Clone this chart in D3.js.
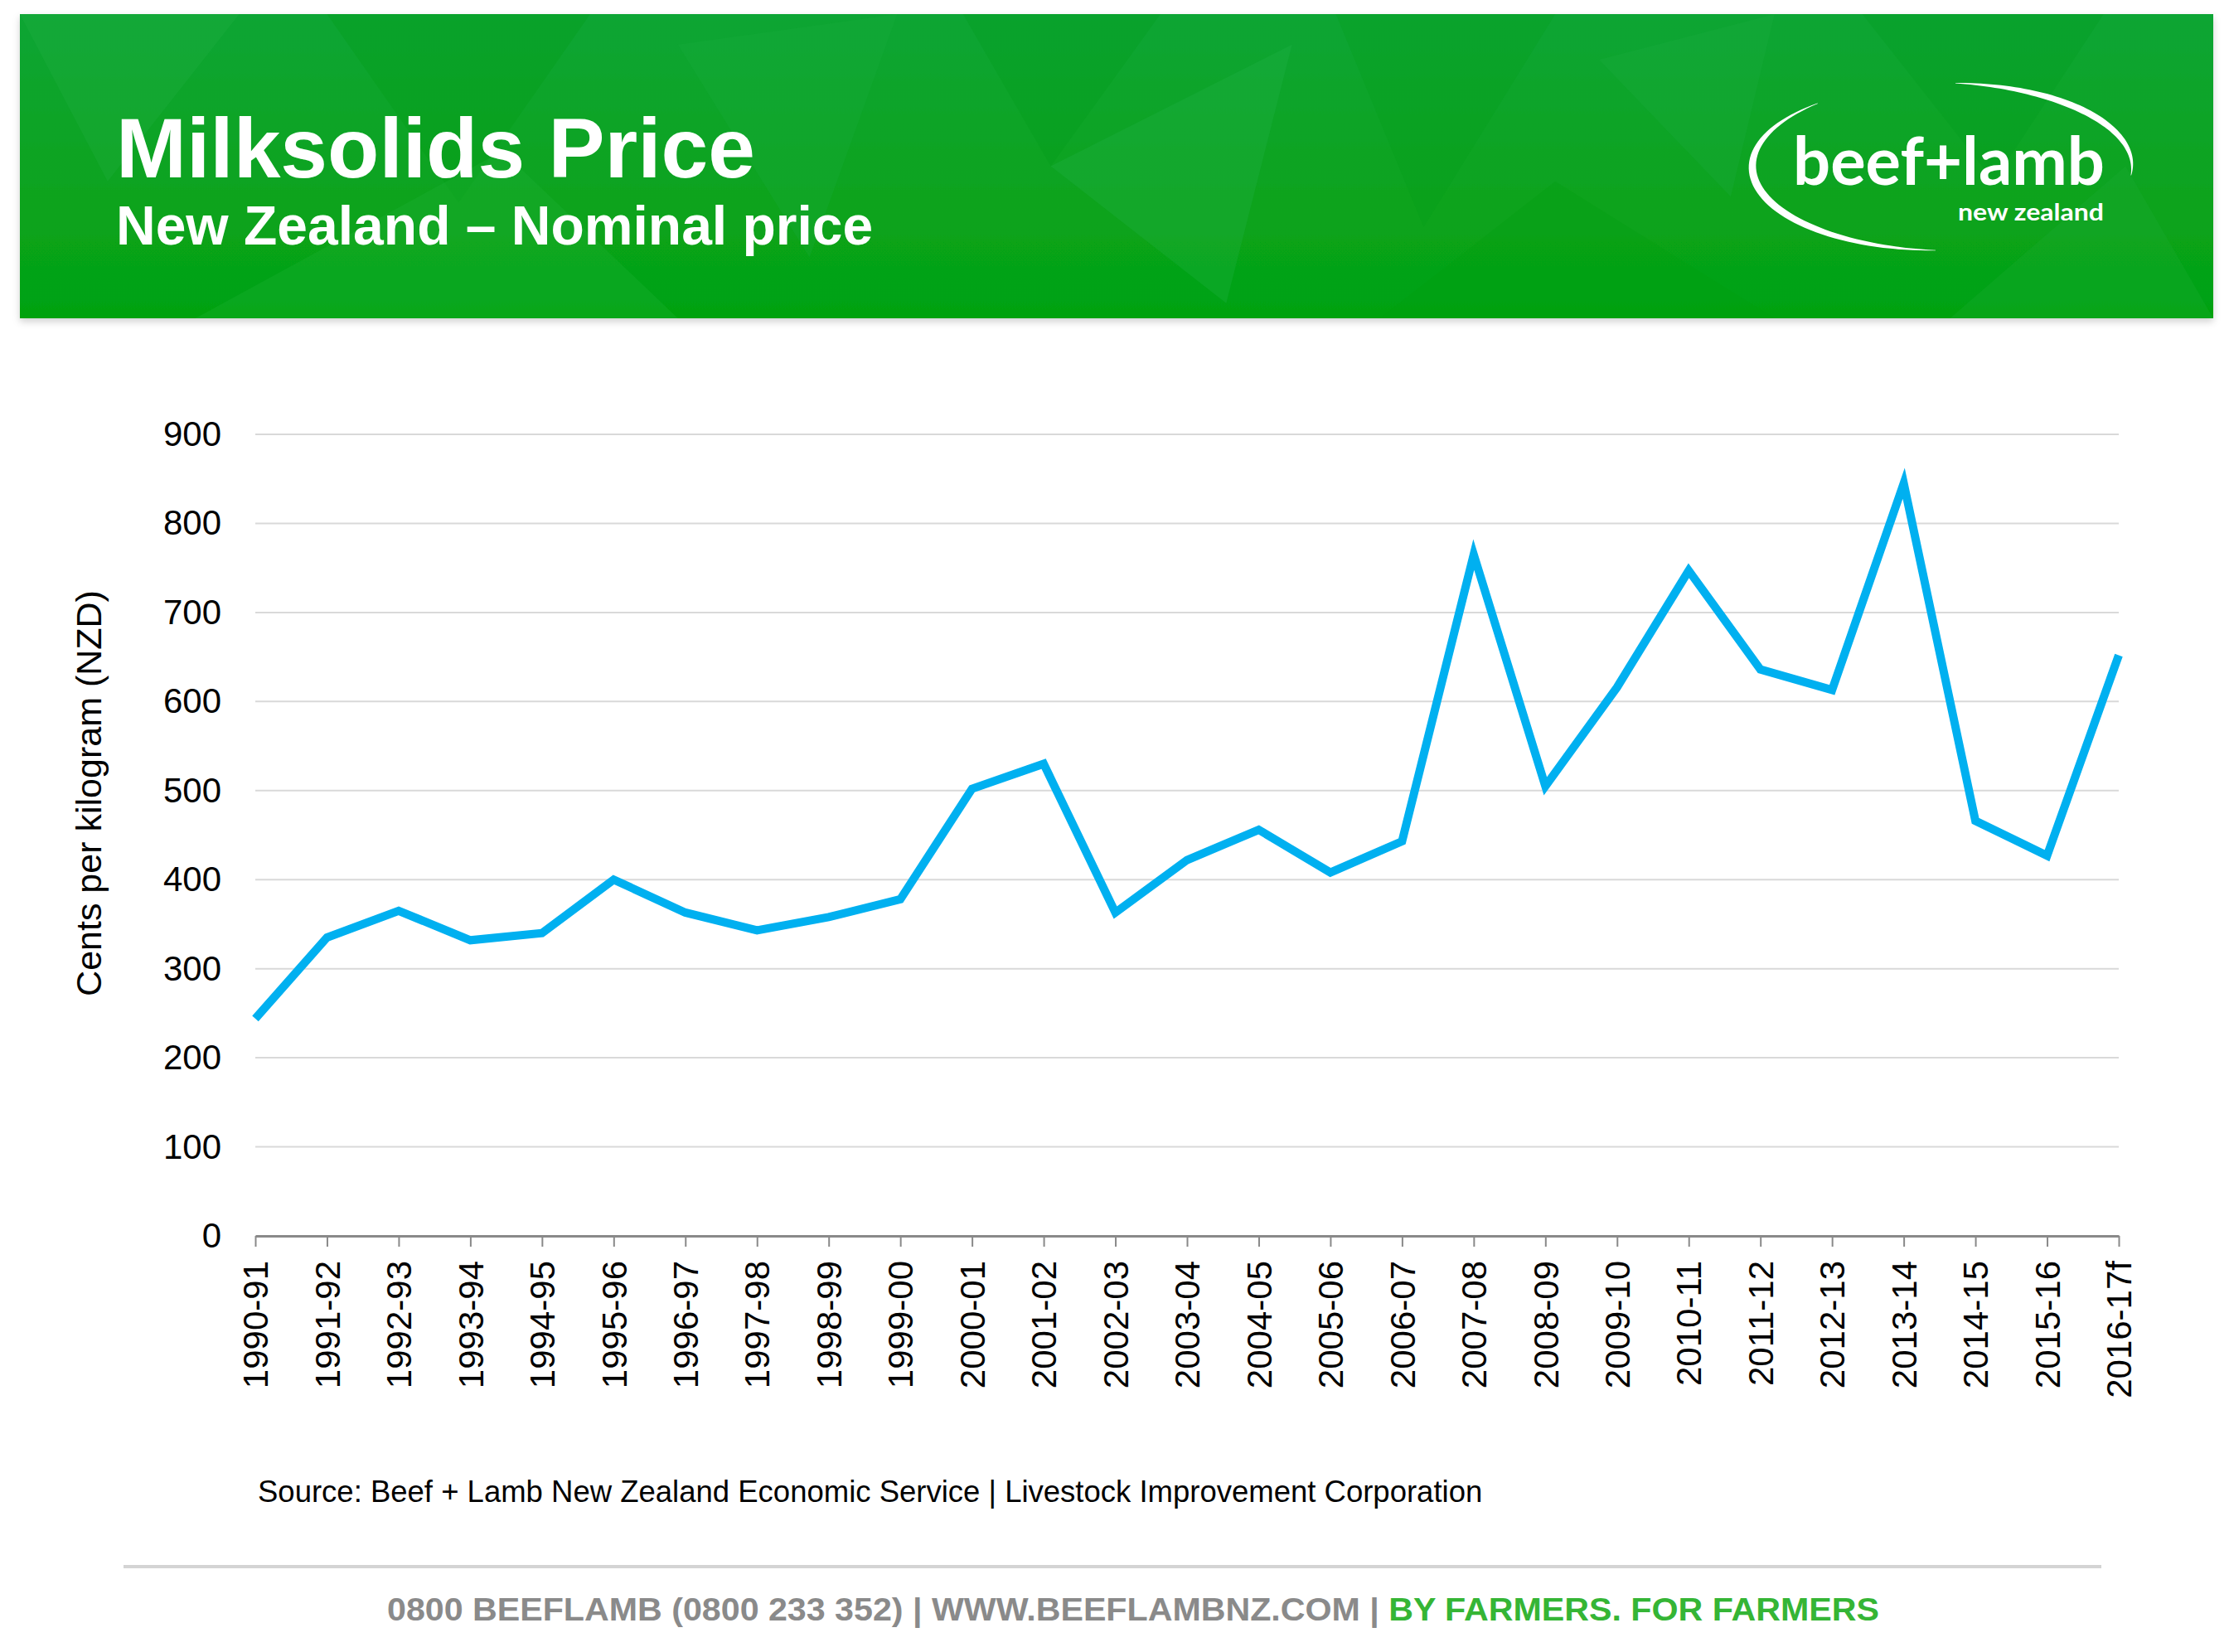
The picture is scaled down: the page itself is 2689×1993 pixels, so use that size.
<!DOCTYPE html>
<html>
<head>
<meta charset="utf-8">
<script src="https://cdn.jsdelivr.net/npm/d3@7"></script>
<style>
  html, body { margin: 0; padding: 0; background: #ffffff; }
  svg { display: block; }
</style>
</head>
<body>
<svg id="chart" width="2689" height="1993"></svg>
<script>
// milksolids price, cents per kg, nominal NZD
var seasons = ["1990-91", "1991-92", "1992-93", "1993-94", "1994-95", "1995-96", "1996-97",
	"1997-98", "1998-99", "1999-00", "2000-01", "2001-02", "2002-03", "2003-04", "2004-05",
	"2005-06", "2006-07", "2007-08", "2008-09", "2009-10", "2010-11", "2011-12", "2012-13",
	"2013-14", "2014-15", "2015-16", "2016-17f"];
var price = [244, 335, 365, 332, 340, 400, 363, 343, 358, 378, 502, 530, 363, 422, 456,
	408, 443, 765, 505, 616, 747, 636, 613, 845, 466, 427, 652];
var yTicks = [0, 100, 200, 300, 400, 500, 600, 700, 800, 900];

var titleText = "Milksolids Price";
var subtitleText = "New Zealand \u2013 Nominal price";
var yTitle = "Cents per kilogram (NZD)";
var sourceText = "Source: Beef + Lamb New Zealand Economic Service | Livestock Improvement Corporation";
var footerParts = [
	{ text: "0800 BEEFLAMB (0800 233 352) | WWW.BEEFLAMBNZ.COM | ", fill: "#8a8a8a" },
	{ text: "BY FARMERS. FOR FARMERS", fill: "#35b535" }
];

var svg = d3.select("#chart");
var font = "'Liberation Sans', Arial, sans-serif";

// ---- banner ----
var defs = svg.append("defs");
var grad = defs.append("linearGradient")
	.attr("id", "bannerGrad")
	.attr("x1", 0).attr("y1", 0).attr("x2", 0).attr("y2", 1);
grad.append("stop").attr("offset", "0%").attr("stop-color", "#10a534");
grad.append("stop").attr("offset", "100%").attr("stop-color", "#04a210");

defs.append("filter")
	.attr("id", "bannerShadow")
	.attr("x", "-2%").attr("y", "-5%").attr("width", "104%").attr("height", "115%")
	.append("feDropShadow")
	.attr("dx", 0).attr("dy", 4).attr("stdDeviation", 4)
	.attr("flood-color", "#000").attr("flood-opacity", 0.18);

var banner = { x: 24, y: 17, w: 2646, h: 367 };

svg.append("rect")
	.attr("x", banner.x).attr("y", banner.y)
	.attr("width", banner.w).attr("height", banner.h)
	.attr("fill", "url(#bannerGrad)")
	.attr("filter", "url(#bannerShadow)");

// faceted background, fractions of the banner box
var facets = [
	[[0.00, 0.00], [0.10, 0.00], [0.04, 0.55]],
	[[0.14, 0.00], [0.26, 0.00], [0.20, 0.62]],
	[[0.30, 0.10], [0.40, 0.00], [0.36, 0.80]],
	[[0.43, 0.00], [0.52, 0.00], [0.47, 0.50]],
	[[0.47, 0.50], [0.58, 0.10], [0.55, 0.95]],
	[[0.60, 0.00], [0.70, 0.00], [0.64, 0.70]],
	[[0.72, 0.15], [0.80, 0.00], [0.78, 0.60]],
	[[0.84, 0.00], [0.95, 0.00], [0.90, 0.55]],
	[[0.08, 1.00], [0.22, 0.45], [0.30, 1.00]],
	[[0.62, 1.00], [0.70, 0.55], [0.80, 1.00]],
	[[0.88, 1.00], [0.96, 0.50], [1.00, 1.00]]
];
var facetShade = ["#23b045", "#009c12", "#1aad3c", "#009a18", "#25b24a", "#049f1a",
	"#1cae40", "#009b1c", "#22b23a", "#009e10", "#1bac35"];

svg.append("g")
	.selectAll("polygon")
	.data(facets)
	.join("polygon")
	.attr("points", function (f) {
		return f.map(function (p) {
			return [banner.x + p[0] * banner.w, banner.y + p[1] * banner.h].join(",");
		}).join(" ");
	})
	.attr("fill", function (f, i) { return facetShade[i]; })
	.attr("opacity", 0.28);

svg.append("text")
	.attr("x", 140).attr("y", 214)
	.attr("font-family", font).attr("font-weight", "bold")
	.attr("font-size", 102).attr("fill", "#ffffff")
	.text(titleText);

svg.append("text")
	.attr("x", 140).attr("y", 295)
	.attr("font-family", font).attr("font-weight", "bold")
	.attr("font-size", 66).attr("fill", "#ffffff")
	.text(subtitleText);

// ---- logo ----
var logo = { cx: 2343, cy: 201, rx: 229, ry: 101 };

function swoosh(a0, a1, maxW) {
	var n = 60;
	var outer = [], inner = [];
	for (var i = 0; i <= n; i++) {
		var t = i / n;
		var a = (a0 + (a1 - a0) * t) * Math.PI / 180;
		var w = maxW * Math.sin(Math.PI * t) + 0.6;
		outer.push([logo.cx + (logo.rx + w / 2) * Math.cos(a), logo.cy + (logo.ry + w / 2) * Math.sin(a)]);
		inner.push([logo.cx + (logo.rx - w / 2) * Math.cos(a), logo.cy + (logo.ry - w / 2) * Math.sin(a)]);
	}
	return d3.line()(outer.concat(inner.reverse())) + "Z";
}

svg.append("path").attr("d", swoosh(229, 92, 9)).attr("fill", "#ffffff");
svg.append("path").attr("d", swoosh(274, 366, 8)).attr("fill", "#ffffff");

svg.append("text")
	.attr("x", 2163).attr("y", 223)
	.attr("font-family", "Lato, 'Open Sans', sans-serif").attr("font-weight", "bold")
	.attr("font-size", 80).attr("fill", "#ffffff")
	.attr("textLength", 376).attr("lengthAdjust", "spacingAndGlyphs")
	.text("beef+lamb");

svg.append("text")
	.attr("x", 2362).attr("y", 266)
	.attr("font-family", "Lato, 'Open Sans', sans-serif").attr("font-weight", "bold")
	.attr("font-size", 28).attr("fill", "#ffffff")
	.attr("textLength", 176).attr("lengthAdjust", "spacingAndGlyphs")
	.text("new zealand");

// ---- chart ----
var plot = { left: 308, right: 2556, top: 524, bottom: 1491 };

var x = d3.scalePoint()
	.domain(seasons)
	.range([plot.left, plot.right]);

var y = d3.scaleLinear()
	.domain([0, 900])
	.range([plot.bottom, plot.top]);

// gridlines
svg.append("g")
	.selectAll("line")
	.data(yTicks.filter(function (d) { return d > 0; }))
	.join("line")
	.attr("x1", plot.left).attr("x2", plot.right)
	.attr("y1", function (d) { return y(d); })
	.attr("y2", function (d) { return y(d); })
	.attr("stroke", "#d9d9d9")
	.attr("stroke-width", 2);

// y axis labels
var yAxis = svg.append("g")
	.attr("transform", "translate(" + plot.left + ",0)")
	.call(d3.axisLeft(y).tickValues(yTicks).tickSize(0).tickPadding(41));
yAxis.select(".domain").remove();
yAxis.selectAll("text")
	.attr("font-family", font)
	.attr("font-size", 42)
	.attr("fill", "#000000");

// x axis
var xAxis = svg.append("g")
	.attr("transform", "translate(0," + plot.bottom + ")")
	.call(d3.axisBottom(x).tickSize(13).tickSizeOuter(0));
xAxis.select(".domain")
	.attr("stroke", "#898989")
	.attr("stroke-width", 3);
xAxis.selectAll(".tick line")
	.attr("stroke", "#898989")
	.attr("stroke-width", 2);
xAxis.selectAll("text")
	.attr("font-family", font)
	.attr("font-size", 42)
	.attr("fill", "#000000")
	.attr("text-anchor", "end")
	.attr("transform", "rotate(-90)")
	.attr("x", -30)
	.attr("y", 0)
	.attr("dy", "0.35em");

// y title
svg.append("text")
	.attr("transform", "translate(122,957) rotate(-90)")
	.attr("text-anchor", "middle")
	.attr("font-family", font)
	.attr("font-size", 43)
	.attr("fill", "#000000")
	.text(yTitle);

// price line
var line = d3.line()
	.x(function (d, i) { return x(seasons[i]); })
	.y(function (d) { return y(d); });

svg.append("path")
	.datum(price)
	.attr("d", line)
	.attr("fill", "none")
	.attr("stroke", "#00b0f0")
	.attr("stroke-width", 10)
	.attr("stroke-linejoin", "miter")
	.attr("stroke-miterlimit", 4);

// ---- source and footer ----
svg.append("text")
	.attr("x", 311).attr("y", 1812)
	.attr("font-family", font)
	.attr("font-size", 36.5)
	.attr("fill", "#000000")
	.text(sourceText);

svg.append("line")
	.attr("x1", 149).attr("x2", 2535)
	.attr("y1", 1890).attr("y2", 1890)
	.attr("stroke", "#d4d4d4")
	.attr("stroke-width", 4);

var footer = svg.append("text")
	.attr("x", 467).attr("y", 1955)
	.attr("font-family", font)
	.attr("font-weight", "bold")
	.attr("font-size", 38)
	.attr("textLength", 1800)
	.attr("lengthAdjust", "spacingAndGlyphs");

footer.selectAll("tspan")
	.data(footerParts)
	.join("tspan")
	.attr("fill", function (d) { return d.fill; })
	.text(function (d) { return d.text; });
</script>
</body>
</html>
